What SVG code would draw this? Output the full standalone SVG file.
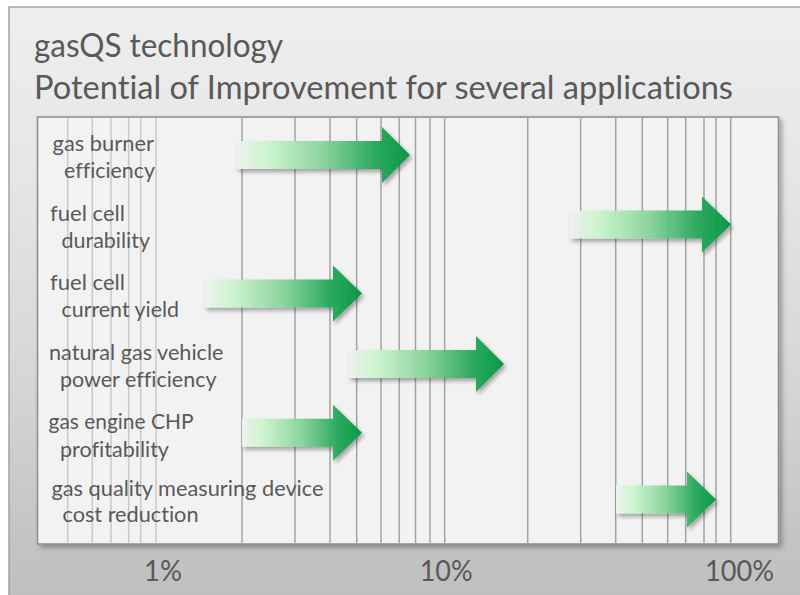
<svg xmlns="http://www.w3.org/2000/svg" width="800" height="595" viewBox="0 0 800 595">
  <defs>
    <linearGradient id="panelGrad" x1="0" y1="0" x2="0" y2="1">
      <stop offset="0" stop-color="#eeeeee"/>
      <stop offset="0.25" stop-color="#e7e7e7"/>
      <stop offset="0.6" stop-color="#d7d7d7"/>
      <stop offset="0.9" stop-color="#c3c3c3"/>
      <stop offset="1" stop-color="#bfbfbf"/>
    </linearGradient>
    <linearGradient id="arrowGrad" x1="0" y1="0" x2="1" y2="0">
      <stop offset="0" stop-color="#eef2ee"/>
      <stop offset="0.18" stop-color="#cbf5cd"/>
      <stop offset="0.5" stop-color="#86d39a"/>
      <stop offset="0.8" stop-color="#24a75a"/>
      <stop offset="1" stop-color="#00963e"/>
    </linearGradient>
    <filter id="shadow" x="-10%" y="-30%" width="120%" height="170%">
      <feDropShadow dx="2" dy="3" stdDeviation="2" flood-color="#000" flood-opacity="0.35"/>
    </filter>
    <filter id="chartShadow" x="-5%" y="-5%" width="110%" height="110%">
      <feDropShadow dx="3" dy="3" stdDeviation="2.5" flood-color="#000" flood-opacity="0.3"/>
    </filter>
  </defs>
  <style>
    text { font-family: "Lato", "Carlito", "Liberation Sans", sans-serif; fill: #595959; font-variant-ligatures: none; }
    .title { font-size: 32px; }
    .label { font-size: 21.5px; }
    .axis { font-size: 28px; }
    .gridMinor { stroke: #c9c9c9; stroke-width: 1.5; }
    .gridMajor { stroke: #a3a3a3; stroke-width: 1.5; }
    .arrow { fill: url(#arrowGrad); opacity: 0.96; filter: url(#shadow); }
  </style>

  <rect x="0" y="0" width="800" height="595" fill="#ffffff"/>
  <rect id="panel" x="9" y="7" width="800" height="600" fill="url(#panelGrad)" stroke="#a3a3a3" stroke-width="1.5"/>

  <g id="title">
    <text class="title" x="34" y="57" textLength="249" lengthAdjust="spacingAndGlyphs">gasQS technology</text>
    <text class="title" x="34" y="99" textLength="699" lengthAdjust="spacingAndGlyphs">Potential of Improvement for several applications</text>
  </g>

  <rect id="chart" x="37.5" y="117" width="741" height="427" fill="#f2f2f2" stroke="#8c8c8c" stroke-width="1.5" filter="url(#chartShadow)"/>

  <g id="grid">
    <line class="gridMinor" x1="67.7" y1="118" x2="67.7" y2="543"/>
    <line class="gridMinor" x1="92.3" y1="118" x2="92.3" y2="543"/>
    <line class="gridMinor" x1="111" y1="118" x2="111" y2="543"/>
    <line class="gridMinor" x1="128.7" y1="118" x2="128.7" y2="543"/>
    <line class="gridMinor" x1="140.7" y1="118" x2="140.7" y2="543"/>
    <line class="gridMinor" x1="156" y1="118" x2="156" y2="543"/>
    <line class="gridMajor" x1="242" y1="118" x2="242" y2="543"/>
    <line class="gridMajor" x1="295" y1="118" x2="295" y2="543"/>
    <line class="gridMajor" x1="330" y1="118" x2="330" y2="543"/>
    <line class="gridMajor" x1="356.7" y1="118" x2="356.7" y2="543"/>
    <line class="gridMajor" x1="381" y1="118" x2="381" y2="543"/>
    <line class="gridMajor" x1="399.3" y1="118" x2="399.3" y2="543"/>
    <line class="gridMajor" x1="415.5" y1="118" x2="415.5" y2="543"/>
    <line class="gridMajor" x1="430" y1="118" x2="430" y2="543"/>
    <line class="gridMajor" x1="444.7" y1="118" x2="444.7" y2="543"/>
    <line class="gridMajor" x1="527.7" y1="118" x2="527.7" y2="543"/>
    <line class="gridMajor" x1="580.7" y1="118" x2="580.7" y2="543"/>
    <line class="gridMajor" x1="615.7" y1="118" x2="615.7" y2="543"/>
    <line class="gridMajor" x1="642.3" y1="118" x2="642.3" y2="543"/>
    <line class="gridMajor" x1="667.7" y1="118" x2="667.7" y2="543"/>
    <line class="gridMajor" x1="685.7" y1="118" x2="685.7" y2="543"/>
    <line class="gridMajor" x1="704" y1="118" x2="704" y2="543"/>
    <line class="gridMajor" x1="716" y1="118" x2="716" y2="543"/>
    <line class="gridMajor" x1="730.7" y1="118" x2="730.7" y2="543"/>
  </g>

  <g id="row-gas-burner">
    <text class="label" x="52.5" y="150.7" textLength="101.5" lengthAdjust="spacingAndGlyphs">gas burner</text>
    <text class="label" x="64" y="178.3" textLength="91" lengthAdjust="spacingAndGlyphs">efficiency</text>
    <polygon class="arrow" points="237,141 382,141 382,127 410,155 382,183 382,169 237,169"/>
  </g>

  <g id="row-fuel-cell-durability">
    <text class="label" x="50" y="220.7" textLength="75" lengthAdjust="spacingAndGlyphs">fuel cell</text>
    <text class="label" x="61.5" y="248.3" textLength="88.5" lengthAdjust="spacingAndGlyphs">durability</text>
    <polygon class="arrow" points="570,210.5 702,210.5 702,196.5 731,224.5 702,252.5 702,238.5 570,238.5"/>
  </g>

  <g id="row-fuel-cell-current-yield">
    <text class="label" x="50" y="290" textLength="75" lengthAdjust="spacingAndGlyphs">fuel cell</text>
    <text class="label" x="61.5" y="316.7" textLength="117.5" lengthAdjust="spacingAndGlyphs">current yield</text>
    <polygon class="arrow" points="205,279.5 333,279.5 333,265.5 362,293.5 333,321.5 333,307.5 205,307.5"/>
  </g>

  <g id="row-ngv-power-efficiency">
    <text class="label" x="49" y="360" textLength="174.5" lengthAdjust="spacingAndGlyphs">natural gas vehicle</text>
    <text class="label" x="60" y="387.3" textLength="156.5" lengthAdjust="spacingAndGlyphs">power efficiency</text>
    <polygon class="arrow" points="349,350 476,350 476,336 504,364 476,392 476,378 349,378"/>
  </g>

  <g id="row-gas-engine-chp">
    <text class="label" x="48.5" y="429.3" textLength="145" lengthAdjust="spacingAndGlyphs">gas engine CHP</text>
    <text class="label" x="60" y="456.7" textLength="109" lengthAdjust="spacingAndGlyphs">profitability</text>
    <polygon class="arrow" points="242,418.7 333,418.7 333,404.7 362,432.7 333,460.7 333,446.7 242,446.7"/>
  </g>

  <g id="row-gas-quality-device">
    <text class="label" x="51.5" y="495.7" textLength="272" lengthAdjust="spacingAndGlyphs">gas quality measuring device</text>
    <text class="label" x="62.5" y="521.7" textLength="136" lengthAdjust="spacingAndGlyphs">cost reduction</text>
    <polygon class="arrow" points="616,485.5 687,485.5 687,471.5 716,499.5 687,527.5 687,513.5 616,513.5"/>
  </g>

  <g id="axis-labels">
    <text class="axis" x="144" y="580.7" textLength="38" lengthAdjust="spacingAndGlyphs">1%</text>
    <text class="axis" x="419.7" y="580.7" textLength="53" lengthAdjust="spacingAndGlyphs">10%</text>
    <text class="axis" x="705" y="580.7" textLength="69" lengthAdjust="spacingAndGlyphs">100%</text>
  </g>
</svg>
